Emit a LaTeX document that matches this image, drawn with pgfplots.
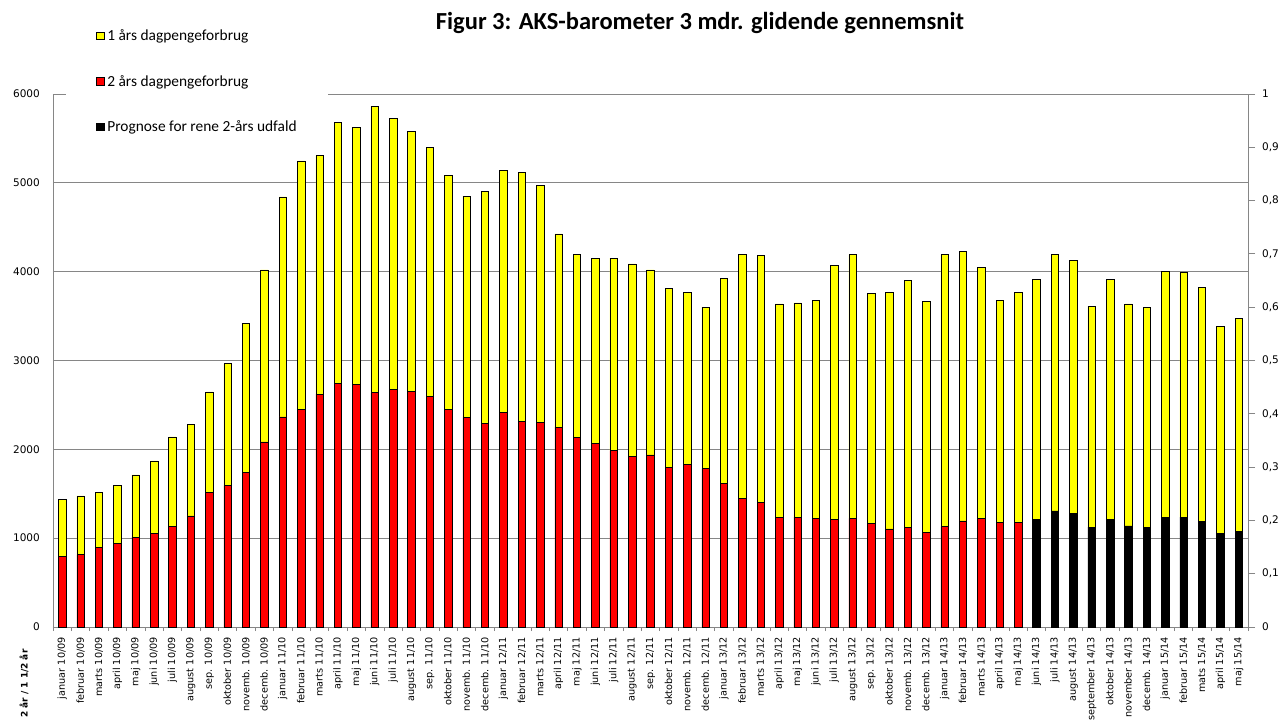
\documentclass[border=0pt]{standalone}
\usepackage{fontspec}
\setmainfont{Carlito}
\newfontfamily\dv{DejaVu Sans}
\usepackage{pgfplots}
\usepackage{pgfplotstable}
\pgfplotsset{compat=1.18}
\definecolor{gridgray}{HTML}{868686}
\definecolor{ybarc}{HTML}{FFFF00}
\definecolor{rbarc}{HTML}{FF0000}

\pgfplotstableread[col sep=comma]{
x,red,black,yellow,label
0,792,0,643,januar 10/09
1,816,0,660,februar 10/09
2,897,0,619,marts 10/09
3,937,0,659,april 10/09
4,1013,0,700,maj 10/09
5,1053,0,817,juni 10/09
6,1134,0,1005,juli 10/09
7,1250,0,1030,august 10/09
8,1516,0,1130,sep. 10/09
9,1592,0,1371,oktober 10/09
10,1737,0,1677,novemb. 10/09
11,2083,0,1938,decemb. 10/09
12,2364,0,2477,januar 11/10
13,2453,0,2794,februar 11/10
14,2622,0,2686,marts 11/10
15,2741,0,2939,april 11/10
16,2729,0,2898,maj 11/10
17,2637,0,3227,juni 11/10
18,2673,0,3050,juli 11/10
19,2649,0,2926,august 11/10
20,2596,0,2806,sep. 11/10
21,2452,0,2636,oktober 11/10
22,2359,0,2492,novemb. 11/10
23,2291,0,2613,decemb. 11/10
24,2412,0,2729,januar 12/11
25,2315,0,2798,februar 12/11
26,2303,0,2665,marts 12/11
27,2251,0,2174,april 12/11
28,2134,0,2058,maj 12/11
29,2066,0,2086,juni 12/11
30,1986,0,2166,juli 12/11
31,1921,0,2167,august 12/11
32,1937,0,2082,sep. 12/11
33,1793,0,2017,oktober 12/11
34,1829,0,1937,novemb. 12/11
35,1781,0,1820,decemb. 12/11
36,1620,0,2307,januar 13/12
37,1447,0,2745,februar 13/12
38,1407,0,2773,marts 13/12
39,1238,0,2399,april 13/12
40,1238,0,2411,maj 13/12
41,1222,0,2456,juni 13/12
42,1210,0,2862,juli 13/12
43,1222,0,2970,august 13/12
44,1170,0,2584,sep. 13/12
45,1105,0,2665,oktober 13/12
46,1121,0,2782,novemb. 13/12
47,1065,0,2596,decemb. 13/12
48,1129,0,3063,januar 14/13
49,1194,0,3034,februar 14/13
50,1226,0,2821,marts 14/13
51,1174,0,2500,april 14/13
52,1174,0,2592,maj 14/13
53,0,1214,2701,juni 14/13
54,0,1306,2886,juli 14/13
55,0,1282,2842,august 14/13
56,0,1125,2484,september 14/13
57,0,1214,2701,oktober 14/13
58,0,1137,2500,november 14/13
59,0,1125,2476,decemb. 14/13
60,0,1238,2765,januar 15/14
61,0,1238,2753,februar 15/14
62,0,1185,2637,mats 15/14
63,0,1057,2327,april 15/14
64,0,1077,2399,maj 15/14
}\data

\begin{document}
\begin{tikzpicture}[x=1pt,y=1pt]
\path[use as bounding box] (-53,-101) rectangle (1232,627);
\begin{axis}[
  at={(0,0)}, anchor=south west,
  scale only axis, width=1195pt, height=533pt,
  ybar stacked, bar width=7.5pt,
  xmin=-0.5, xmax=64.5, ymin=0, ymax=6000,
  axis x line*=bottom, axis y line*=left,
  axis line style={gridgray, line width=0.8pt},
  ymajorgrids, grid style={gridgray, line width=0.8pt},
  ytick={0,1000,...,6000},
  xtick={0,...,64},
  xticklabels from table={\data}{label},
  minor xtick={-0.5,0.5,...,64.5},
  major tick length=0pt, minor tick length=4pt, tick align=outside,
  tick style={gridgray, line width=0.8pt},
  xticklabel style={rotate=90, anchor=east, inner sep=0pt, font=\dv\fontsize{9.7}{11}\selectfont},
  xticklabel shift=10pt,
  yticklabel style={font=\dv\fontsize{10.5}{12}\selectfont, inner sep=0pt},
  yticklabel shift=13pt,
  /pgf/number format/assume math mode=true,
  /pgf/number format/1000 sep={},
  scaled y ticks=false,
  legend style={at={(axis description cs:0.0109,1.1417)}, anchor=north west,
    draw=none, fill=white, inner xsep=30pt, inner ysep=10pt,
    nodes={inner sep=1pt}, row sep=31pt,
    /tikz/every odd column/.append style={column sep=2pt},
    font=\fontsize{15.4}{18}\selectfont},
  legend cell align=left,
  legend image code/.code={\draw[#1] (0pt,-3.75pt) rectangle (7.5pt,3.75pt);},
]
\addlegendimage{fill=ybarc, draw=black, line width=0.6pt}
\addlegendentry{1 års dagpengeforbrug}
\addlegendimage{fill=rbarc, draw=black, line width=0.6pt}
\addlegendentry{2 års dagpengeforbrug}
\addlegendimage{fill=black, draw=black, line width=0.6pt}
\addlegendentry{Prognose for rene 2-års udfald}
\addplot[forget plot, fill=rbarc, draw=black, line width=0.6pt] table[x=x, y=red] {\data};
\addplot[forget plot, fill=black, draw=black, line width=0.6pt] table[x=x, y=black] {\data};
\addplot[forget plot, fill=ybarc, draw=black, line width=0.6pt] table[x=x, y=yellow] {\data};
\end{axis}
\begin{axis}[
  at={(0,0)}, anchor=south west,
  scale only axis, width=1195pt, height=533pt,
  xmin=0, xmax=1, ymin=0, ymax=1,
  axis y line*=right, axis x line=none,
  axis line style={gridgray, line width=0.8pt},
  ytick={0,0.1,0.2,0.3,0.4,0.5,0.6,0.7,0.8,0.9,1},
  yticklabels={0,{0,1},{0,2},{0,3},{0,4},{0,5},{0,6},{0,7},{0,8},{0,9},1},
  tick align=outside, major tick length=7pt,
  tick style={gridgray, line width=0.8pt},
  yticklabel style={font=\dv\fontsize{10.5}{12}\selectfont, inner sep=0pt, anchor=west},
  yticklabel shift=7pt,
]
\addplot[draw=none] coordinates {(0,0) (1,1)};
\end{axis}
\node[anchor=base, font=\bfseries\fontsize{24.5}{28}\selectfont] at (647,597) {Figur 3: AKS-barometer 3 mdr. glidende gennemsnit};
\node[rotate=90, anchor=west, inner sep=0pt, font=\dv\bfseries\fontsize{9}{11}\selectfont] at (-29,-91) {2 år / 1 1/2 år};
\end{tikzpicture}
\end{document}
